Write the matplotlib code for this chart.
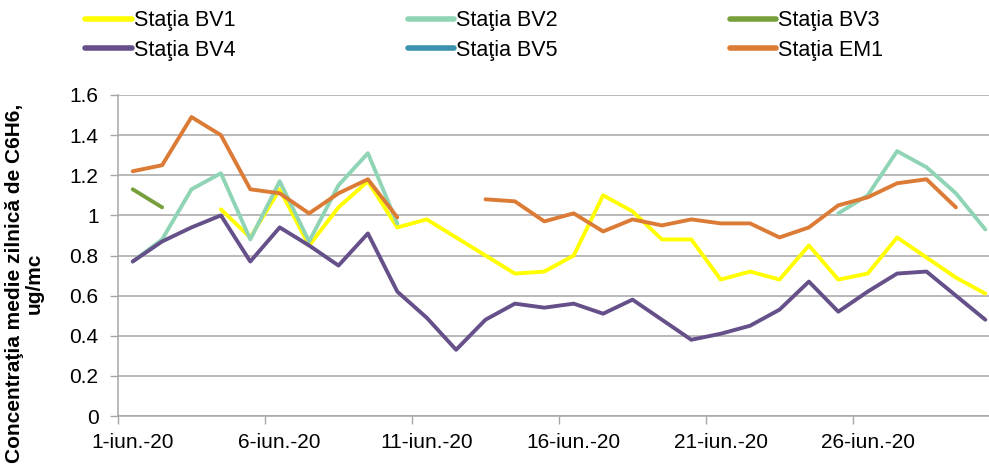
import numpy as np
import matplotlib
matplotlib.use("Agg")
import matplotlib.pyplot as plt

plt.rcParams['font.family'] = ['Liberation Sans', 'DejaVu Sans']

nan = np.nan

# Daily means, June 2020 (day 1..30)
days = list(range(1, 31))
tick_days = [1, 6, 11, 16, 21, 26]
tick_labels = ['1-iun.-20', '6-iun.-20', '11-iun.-20', '16-iun.-20', '21-iun.-20', '26-iun.-20']

bv1 = [nan, nan, nan, 1.03, 0.89, 1.13, 0.85, 1.04, 1.17, 0.94,
       0.98, 0.89, 0.80, 0.71, 0.72, 0.80, 1.10, 1.02, 0.88, 0.88,
       0.68, 0.72, 0.68, 0.85, 0.68, 0.71, 0.89, 0.79, 0.69, 0.61]
bv2 = [0.77, 0.88, 1.13, 1.21, 0.88, 1.17, 0.87, 1.15, 1.31, 0.96,
       nan, nan, nan, nan, nan, nan, nan, nan, nan, nan,
       nan, nan, nan, nan, 1.01, 1.10, 1.32, 1.24, 1.11, 0.93]
bv3 = [1.13, 1.04] + [nan] * 28
bv4 = [0.77, 0.87, 0.94, 1.00, 0.77, 0.94, 0.85, 0.75, 0.91, 0.62,
       0.49, 0.33, 0.48, 0.56, 0.54, 0.56, 0.51, 0.58, 0.48, 0.38,
       0.41, 0.45, 0.53, 0.67, 0.52, 0.62, 0.71, 0.72, 0.60, 0.48]
bv5 = [nan] * 30
em1 = [1.22, 1.25, 1.49, 1.40, 1.13, 1.11, 1.01, 1.11, 1.18, 0.99,
       nan, nan, 1.08, 1.07, 0.97, 1.01, 0.92, 0.98, 0.95, 0.98,
       0.96, 0.96, 0.89, 0.94, 1.05, 1.09, 1.16, 1.18, 1.04, nan]

series = [
    ('Staţia BV1', bv1, '#FFFF00'),
    ('Staţia BV2', bv2, '#8FD5B5'),
    ('Staţia BV3', bv3, '#77A03C'),
    ('Staţia BV4', bv4, '#65508A'),
    ('Staţia BV5', bv5, '#3A93AE'),
    ('Staţia EM1', em1, '#DB7B35'),
]

fig = plt.figure(figsize=(9.89, 4.66), dpi=100)
W, H = 989, 466
# plot area runs a bit past the right edge, as in the original crop
ax = fig.add_axes([118 / W, 50 / H, 882 / W, 321 / H])

handles = {}
for name, vals, col in series:
    ln, = ax.plot(days, vals, color=col, lw=2.8, solid_capstyle='round',
                  solid_joinstyle='round', label=name)
    handles[name] = ln

ax.set_xlim(0.5, 30.5)
ax.set_ylim(0, 1.6)
ax.set_yticks(np.arange(0, 1.61, 0.2))
ax.set_yticklabels(['0', '0.2', '0.4', '0.6', '0.8', '1', '1.2', '1.4', '1.6'])
ax.yaxis.grid(True, color='#A6A6A6', lw=1.1)
ax.set_axisbelow(True)

# labels under the data points, tick marks on the category boundaries
ax.set_xticks(tick_days)
ax.set_xticklabels(tick_labels)
ax.set_xticks([d - 0.5 for d in tick_days], minor=True)
ax.tick_params(axis='x', which='major', length=0, pad=12, labelsize=15)
ax.tick_params(axis='x', which='minor', length=6, color='#A6A6A6', width=1)
ax.tick_params(axis='y', length=6, color='#A6A6A6', width=1, pad=8, labelsize=15)

for s in ['top', 'right']:
    ax.spines[s].set_visible(False)
for s in ['left', 'bottom']:
    ax.spines[s].set_color('#A6A6A6')
    ax.spines[s].set_linewidth(1.1)

fig.text(24 / W, 1 - 283 / H, 'Concentraţia medie zilnică de C6H6,\nug/mc',
         rotation=90, ha='center', va='center', fontsize=15,
         fontweight='bold', linespacing=1.05)

order = ['Staţia BV1', 'Staţia BV4', 'Staţia BV2', 'Staţia BV5', 'Staţia BV3', 'Staţia EM1']
leg = fig.legend([handles[n] for n in order], order, ncol=3, loc='upper left',
                 bbox_to_anchor=(66 / W, 1 + 9 / H), frameon=False, fontsize=15.5,
                 handlelength=2.15, handletextpad=0.1, columnspacing=8.0,
                 labelspacing=0.4)
for l in leg.get_lines():
    l.set_linewidth(4)

fig.savefig('out.png', dpi=100)
